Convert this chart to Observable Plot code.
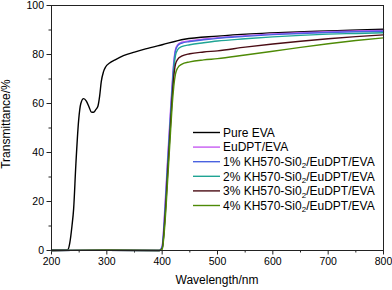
<!DOCTYPE html>
<html>
<head>
<meta charset="utf-8">
<script src="https://cdn.jsdelivr.net/npm/d3@7"></script>
<script src="https://cdn.jsdelivr.net/npm/@observablehq/plot@0.6"></script>
<style>
  html, body { margin: 0; padding: 0; background: #fff; }
  svg { display: block; }
</style>
</head>
<body>
<div id="chart"></div>
<script>
// ---- data ----
const seriesNames = ["Pure EVA", "EuDPT/EVA", "1% KH570-Si0₂/EuDPT/EVA", "2% KH570-Si0₂/EuDPT/EVA", "3% KH570-Si0₂/EuDPT/EVA", "4% KH570-Si0₂/EuDPT/EVA"];
const seriesColors = ["#000000", "#c65cf2", "#4a62e0", "#1fa494", "#4a0c14", "#4e8a06"];

const evaWavelength = [200, 225, 230, 233, 237, 240, 244, 249, 253, 258, 263, 268, 272, 276, 280, 284, 287, 290, 294, 298, 305, 315, 330, 350, 370, 400, 440, 500, 560, 620, 680, 740, 800];
const evaT = [0.2, 0.2, 0.5, 3, 10, 17, 35, 53, 60, 62, 61, 58.5, 56.5, 56.4, 57.5, 59, 63, 69, 73, 75, 76.5, 77.8, 79.5, 81, 82.3, 84, 86.2, 87.5, 88.4, 89, 89.5, 89.9, 90.3];

const filmWavelength = [200, 300, 395, 400, 405, 410, 415, 418, 421, 424, 428, 435, 450, 475, 500, 550, 600, 650, 700, 750, 800];
const eudptT = [0, 0.1, 0, 2, 18, 38, 57, 68, 77, 82, 84, 85, 85.6, 86.3, 86.9, 87.7, 88.4, 88.9, 89.3, 89.6, 89.8];
const kh1T   = [0, 0.1, 0, 1.5, 16, 36, 55, 66, 76, 81.5, 83.6, 84.6, 85.3, 86, 86.6, 87.4, 88.1, 88.6, 89, 89.3, 89.5];
const kh2T   = [0, 0.1, 0, 1, 14, 34, 53, 64, 74, 79.5, 82, 83.2, 84, 84.8, 85.5, 86.4, 87.2, 87.8, 88.3, 88.6, 88.9];
const kh3T   = [0, 0.1, 0, 0.8, 13, 32, 51, 62, 71, 76, 78, 79.3, 80.3, 81, 81.5, 83, 84.3, 85.4, 86.4, 87.3, 88];
const kh4T   = [0, 0.1, 0, 0.5, 11, 29, 48, 59, 67, 72, 74.5, 76, 77, 77.8, 78.3, 79.8, 81.3, 82.9, 84.4, 85.7, 86.8];

const xMajor = [200, 300, 400, 500, 600, 700, 800];
const xMinor = [250, 350, 450, 550, 650, 750];
const yMajor = [0, 20, 40, 60, 80, 100];
const yMinor = [10, 30, 50, 70, 90];

// ---- build table ----
const filmSeries = [eudptT, kh1T, kh2T, kh3T, kh4T];
const rows = [];
evaWavelength.forEach((w, i) => rows.push({series: seriesNames[0], w, t: evaT[i]}));
filmSeries.forEach((arr, k) => filmWavelength.forEach((w, i) => rows.push({series: seriesNames[k + 1], w, t: arr[i]})));

const font = "'Liberation Sans', Arial, sans-serif";

const chart = Plot.plot({
  width: 392,
  height: 290,
  marginLeft: 51,
  marginRight: 9,
  marginTop: 5,
  marginBottom: 40,
  style: {fontFamily: font, fontSize: "10px", background: "#fff", color: "#000"},
  x: {domain: [200, 800], label: null},
  y: {domain: [0, 100], label: null},
  color: {domain: seriesNames, range: seriesColors},
  marks: [
    Plot.axisX({ticks: xMinor, tickSize: 2.5, text: null, stroke: "#222"}),
    Plot.axisX({ticks: xMajor, tickSize: 4.5, tickPadding: 3, tickFormat: d => String(d), stroke: "#222", fontSize: 10.5}),
    Plot.axisY({ticks: yMinor, tickSize: 2.5, text: null, stroke: "#222"}),
    Plot.axisY({ticks: yMajor, tickSize: 4.5, tickPadding: 3, tickFormat: d => String(d), stroke: "#222", fontSize: 10.5}),
    Plot.line(rows, {x: "w", y: "t", z: "series", stroke: "series", strokeWidth: 1.4, curve: "monotone-x"}),
    Plot.frame({stroke: "#222", strokeWidth: 1})
  ]
});

document.getElementById("chart").appendChild(chart);

// ---- axis titles and legend ----
const svg = d3.select(chart);
svg.append("text")
  .attr("x", 217).attr("y", 284)
  .attr("text-anchor", "middle")
  .attr("font-family", font).attr("font-size", 12).attr("fill", "#000")
  .text("Wavelength/nm");
svg.append("text")
  .attr("transform", "translate(10,124) rotate(-90)")
  .attr("text-anchor", "middle")
  .attr("font-family", font).attr("font-size", 12).attr("fill", "#000")
  .text("Transmittance/%");

const legend = svg.append("g").attr("font-family", font).attr("font-size", 12).attr("text-anchor", "start");
seriesNames.forEach((name, i) => {
  const y = 132.5 + i * 14.6;
  legend.append("line").attr("x1", 193).attr("x2", 220).attr("y1", y).attr("y2", y)
    .attr("stroke", seriesColors[i]).attr("stroke-width", 1.4);
  const t = legend.append("text").attr("x", 223).attr("y", y + 4.2).attr("fill", "#000").attr("text-anchor", "start");
  const parts = name.split("₂");
  if (parts.length > 1) {
    t.append("tspan").text(parts[0]);
    t.append("tspan").attr("font-size", 8).attr("dy", 2.5).text("2");
    t.append("tspan").attr("dy", -2.5).text(parts[1]);
  } else {
    t.text(name);
  }
});
</script>
</body>
</html>
